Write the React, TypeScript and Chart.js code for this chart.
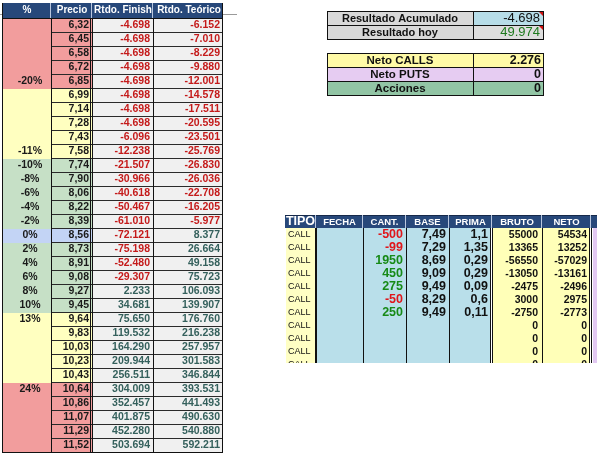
import React, { useEffect, useRef } from 'react';
import { Chart, registerables } from 'chart.js';

Chart.register(...registerables);

const W = 604;
const H = 466;

// ---------- Left table data ----------
const headersLeft = ['%', 'Precio', 'Rtdo. Finish', 'Rtdo. Teórico'];
const pctLabels = ['', '', '', '', '-20%', '', '', '', '', '-11%', '-10%', '-8%', '-6%', '-4%', '-2%', '0%', '2%', '4%', '6%', '8%', '10%', '13%', '', '', '', '', '24%', '', '', '', ''];
const zones = ['r', 'r', 'r', 'r', 'r', 'y', 'y', 'y', 'y', 'y', 'g', 'g', 'g', 'g', 'g', 'b', 'g', 'g', 'g', 'g', 'g', 'y', 'y', 'y', 'y', 'y', 'r', 'r', 'r', 'r', 'r'];
const precios = [6.32, 6.45, 6.58, 6.72, 6.85, 6.99, 7.14, 7.28, 7.43, 7.58, 7.74, 7.90, 8.06, 8.22, 8.39, 8.56, 8.73, 8.91, 9.08, 9.27, 9.45, 9.64, 9.83, 10.03, 10.23, 10.43, 10.64, 10.86, 11.07, 11.29, 11.52];
const rtdoFinish = [-4698, -4698, -4698, -4698, -4698, -4698, -4698, -4698, -6096, -12238, -21507, -30966, -40618, -50467, -61010, -72121, -75198, -52480, -29307, 2233, 34681, 75650, 119532, 164290, 209944, 256511, 304009, 352457, 401875, 452280, 503694];
const rtdoTeorico = [-6152, -7010, -8229, -9880, -12001, -14578, -17511, -20595, -23501, -25769, -26830, -26036, -22708, -16205, -5977, 8377, 26664, 49158, 75723, 106093, 139907, 176760, 216238, 257957, 301583, 346844, 393531, 441493, 490630, 540880, 592211];

// ---------- Summary boxes ----------
const summary1Labels = ['Resultado Acumulado', 'Resultado hoy'];
const summary1Values = [-4698, 49974];
const summary2Labels = ['Neto CALLS', 'Neto PUTS', 'Acciones'];
const summary2Values = [2276, 0, 0];

// ---------- Operations table ----------
const opHeaders = ['TIPO', 'FECHA', 'CANT.', 'BASE', 'PRIMA', 'BRUTO', 'NETO'];
const opTipo = ['CALL', 'CALL', 'CALL', 'CALL', 'CALL', 'CALL', 'CALL', 'CALL', 'CALL', 'CALL', 'CALL'];
const opCant = [-500, -99, 1950, 450, 275, -50, 250, null, null, null, null];
const opBase = [7.49, 7.29, 8.69, 9.09, 9.49, 8.29, 9.49, null, null, null, null];
const opPrima = [1.1, 1.35, 0.29, 0.29, 0.09, 0.6, 0.11, null, null, null, null];
const opBruto = [55000, 13365, -56550, -13050, -2475, 3000, -2750, 0, 0, 0, 0];
const opNeto = [54534, 13252, -57029, -13161, -2496, 2975, -2773, 0, 0, 0, 0];

// ---------- Styling / layout ----------
const FONT = '"Liberation Sans", Arial, sans-serif';
const NAVY = '#27487a';
const zoneColor: Record<string, string> = { r: '#f29d9d', y: '#ffffc0', g: '#c6e0c6', b: '#c3d4f5' };

const L = { cols: [2, 51, 92, 153, 223], headTop: 3, headBot: 18, rowTop: 19, rowH: 14 };
const R = { cols: [285, 316, 363, 406, 449, 492, 542, 591, 597], headTop: 215, headBot: 228, rowH: 13, clip: 363 };
const S = { x: [327, 473, 543], y1: [11, 25, 39], y2: [53, 67, 81, 95] };

function miles(v: number) {
  const s = Math.abs(v).toString().replace(/\B(?=(\d{3})+(?!\d))/g, '.');
  return (v < 0 ? '-' : '') + s;
}
function dec2(v: number) {
  return v.toFixed(2).replace('.', ',');
}
function decComma(v: number) {
  return String(v).replace('.', ',');
}

const sheetPlugin = {
  id: 'sheet',
  beforeDraw(chart: any) {
    const { ctx, scales } = chart;
    const X = (v: number) => scales.x.getPixelForValue(v);
    const Y = (v: number) => scales.y.getPixelForValue(v);
    const rect = (x0: number, y0: number, x1: number, y1: number, c: string) => {
      ctx.fillStyle = c;
      ctx.fillRect(X(x0), Y(y0), X(x1) - X(x0), Y(y1) - Y(y0));
    };
    const hline = (x0: number, x1: number, y: number, c: string, w = 1) => {
      rect(x0, y, x1, y + w, c);
    };
    const vline = (x: number, y0: number, y1: number, c: string, w = 1) => {
      rect(x, y0, x + w, y1, c);
    };
    const text = (s: string, x: number, y: number, align: CanvasTextAlign, font: string, c: string) => {
      ctx.font = font;
      ctx.fillStyle = c;
      ctx.textAlign = align;
      ctx.textBaseline = 'middle';
      ctx.fillText(s, X(x), Y(y));
    };

    ctx.save();
    rect(0, 0, W, H, '#ffffff');

    // ===== Left table =====
    const lc = L.cols;
    hline(0, 2, 14, '#9a9a9a');
    hline(223, 237, 14, '#9a9a9a');
    rect(lc[0], L.headTop, lc[4], L.headBot, NAVY);
    for (let k = 1; k < 4; k++) vline(lc[k] - 1, L.headTop, L.headBot, '#b8c6de');
    const headCenters = [27, 72, 123, 189];
    headersLeft.forEach((h, k) => text(h, headCenters[k], 10.5, 'center', `bold 10px ${FONT}`, '#ffffff'));

    const nRows = precios.length;
    for (let i = 0; i < nRows; i++) {
      const y0 = L.rowTop + i * L.rowH;
      const y1 = y0 + L.rowH;
      const zc = zoneColor[zones[i]];
      rect(lc[0], y0, lc[1], y1, zc);
      rect(lc[1], y0, lc[2], y1, zc);
      rect(lc[2], y0, lc[4], y1, '#f0f0f0');
    }
    for (let i = 1; i < nRows; i++) {
      const y = L.rowTop + i * L.rowH - 1;
      hline(lc[1], lc[4], y, '#2a2a2a');
    }
    const tableBottom = L.rowTop + nRows * L.rowH;
    hline(lc[0], lc[4], L.headBot, '#111');
    hline(lc[0], lc[4], tableBottom - 1, '#111');
    vline(lc[0], L.headTop, tableBottom, '#111');
    vline(lc[1], L.headBot, tableBottom, '#111');
    vline(lc[2] - 2, L.headBot, tableBottom, '#111');
    vline(lc[2], L.headBot, tableBottom, '#111');
    vline(lc[3], L.headBot, tableBottom, '#111');
    vline(lc[4] - 1, L.headTop, tableBottom, '#111');

    const cellFont = `bold 10.5px ${FONT}`;
    for (let i = 0; i < nRows; i++) {
      const yc = L.rowTop + i * L.rowH + 6.5;
      if (pctLabels[i]) text(pctLabels[i], 30, yc, 'center', cellFont, '#1a1a1a');
      text(dec2(precios[i]), 89, yc, 'right', cellFont, '#1a1a1a');
      const f = rtdoFinish[i];
      text(miles(f), 150, yc, 'right', cellFont, f < 0 ? '#c41a1a' : '#34605c');
      const t = rtdoTeorico[i];
      text(miles(t), 220, yc, 'right', cellFont, t < 0 ? '#c41a1a' : '#34605c');
    }

    // ===== Summary boxes =====
    const sx = S.x;
    summary1Labels.forEach((lab, i) => {
      const y0 = S.y1[i];
      const y1 = S.y1[i + 1];
      rect(sx[0], y0, sx[1], y1, '#d9d9d9');
      rect(sx[1], y0, sx[2], y1, i === 0 ? '#b7dde8' : '#dedede');
      text(lab, (sx[0] + sx[1]) / 2, (y0 + y1) / 2 + 0.5, 'center', `bold 11px ${FONT}`, '#111');
      text(miles(summary1Values[i]), sx[2] - 3, (y0 + y1) / 2 + 0.5, 'right', `13px ${FONT}`, i === 0 ? '#111' : '#1e7a1e');
      ctx.fillStyle = '#d01010';
      ctx.beginPath();
      ctx.moveTo(X(sx[2] - 5), Y(y0));
      ctx.lineTo(X(sx[2]), Y(y0));
      ctx.lineTo(X(sx[2]), Y(y0 + 5));
      ctx.closePath();
      ctx.fill();
    });
    hline(sx[0], sx[2], S.y1[0], '#111');
    hline(sx[0], sx[2], S.y1[1], '#111');
    hline(sx[0], sx[2], S.y1[2], '#111');
    vline(sx[0], S.y1[0], S.y1[2], '#111');
    vline(sx[1], S.y1[0], S.y1[2], '#111');
    vline(sx[2], S.y1[0], S.y1[2] + 1, '#111');

    const s2Colors = ['#fffaa6', '#e6ccf2', '#92c5a5'];
    summary2Labels.forEach((lab, i) => {
      const y0 = S.y2[i];
      const y1 = S.y2[i + 1];
      rect(sx[0], y0, sx[2], y1, s2Colors[i]);
      text(lab, (sx[0] + sx[1]) / 2, (y0 + y1) / 2 + 0.5, 'center', `bold 11.5px ${FONT}`, '#111');
      text(miles(summary2Values[i]), sx[2] - 2, (y0 + y1) / 2 + 0.5, 'right', `bold 12.5px ${FONT}`, '#111');
    });
    S.y2.forEach((y) => hline(sx[0], sx[2], y, '#111'));
    vline(sx[0], S.y2[0], S.y2[3], '#111');
    vline(sx[1], S.y2[0], S.y2[3], '#111');
    vline(sx[2], S.y2[0], S.y2[3] + 1, '#111');

    // ===== Operations table =====
    const rc = R.cols;
    ctx.save();
    ctx.beginPath();
    ctx.rect(X(0), Y(0), X(W) - X(0), Y(R.clip) - Y(0));
    ctx.clip();
    rect(rc[0], R.headTop, rc[8], R.headBot, NAVY);
    hline(rc[0], rc[8], R.headTop, '#16294a');
    for (let k = 1; k < 8; k++) vline(rc[k] - 1, R.headTop, R.headBot, '#b8c6de');
    opHeaders.forEach((h, k) => {
      const cx = (rc[k] + rc[k + 1]) / 2;
      const f = k === 0 ? `bold 12.5px ${FONT}` : `bold 9.5px ${FONT}`;
      text(h, cx, (R.headTop + R.headBot) / 2 + 0.5, 'center', f, '#ffffff');
    });
    const nOp = opTipo.length;
    const bodyBot = R.headBot + nOp * R.rowH;
    rect(rc[0] + 1, R.headBot, rc[1] - 1, bodyBot, '#ffffc4');
    rect(rc[1], R.headBot, rc[5] - 1, bodyBot, '#b9dfea');
    rect(rc[5], R.headBot, rc[7] - 1, bodyBot, '#ffffb8');
    rect(rc[7] + 2, R.headBot, rc[8], bodyBot, '#e2c8f2');
    vline(rc[1] - 1, R.headBot, bodyBot, '#111', 2);
    vline(rc[2], R.headBot, bodyBot, '#111');
    vline(rc[3], R.headBot, bodyBot, '#111');
    vline(rc[4], R.headBot, bodyBot, '#111');
    vline(rc[5] - 2, R.headBot, bodyBot, '#111');
    vline(rc[5], R.headBot, bodyBot, '#111');
    vline(rc[6], R.headBot, bodyBot, '#111');
    vline(rc[7] - 2, R.headBot, bodyBot, '#111');
    vline(rc[7], R.headBot, bodyBot, '#111');
    for (let i = 0; i < nOp; i++) {
      const yc = R.headBot + i * R.rowH + 7;
      text(opTipo[i], 288, yc, 'left', `9px ${FONT}`, '#111');
      const c = opCant[i];
      if (c !== null) text(String(c), 403, yc, 'right', `bold 12.5px ${FONT}`, c < 0 ? '#e0161b' : '#178a17');
      const b = opBase[i];
      if (b !== null) text(decComma(b), 446, yc, 'right', `bold 12.5px ${FONT}`, '#111');
      const p = opPrima[i];
      if (p !== null) text(decComma(p), 488, yc, 'right', `bold 12.5px ${FONT}`, '#111');
      text(String(opBruto[i]), 538, yc, 'right', `bold 10.5px ${FONT}`, '#111');
      text(String(opNeto[i]), 587, yc, 'right', `bold 10.5px ${FONT}`, '#111');
    }
    ctx.restore();

    ctx.restore();
  },
};

export default function App() {
  const ref = useRef<HTMLCanvasElement>(null);
  useEffect(() => {
    const chart = new Chart(ref.current as HTMLCanvasElement, {
      type: 'scatter',
      data: { datasets: [] },
      options: {
        animation: false,
        responsive: false,
        events: [],
        layout: { padding: 0 },
        plugins: { legend: { display: false }, tooltip: { enabled: false } },
        scales: {
          x: { type: 'linear', min: 0, max: W, display: false },
          y: { type: 'linear', min: 0, max: H, reverse: true, display: false },
        },
      },
      plugins: [sheetPlugin],
    });
    return () => chart.destroy();
  }, []);
  return (
    <div style={{ position: 'absolute', left: 0, top: 0, width: W, height: H, background: '#fff' }}>
      <canvas ref={ref} width={W} height={H} style={{ display: 'block' }} />
    </div>
  );
}
